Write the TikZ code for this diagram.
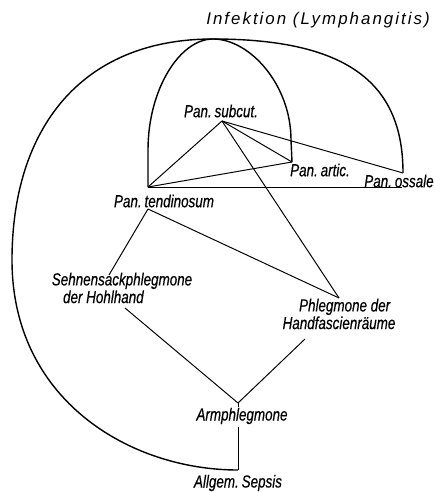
\documentclass[tikz,border=0pt]{standalone}
\usepackage{fontspec}
\setmainfont{Liberation Sans}
\newfontfamily\handfont[FakeStretch=0.77,FakeBold=0.4]{Liberation Sans}
\newfontfamily\headfont[LetterSpace=12]{Liberation Sans}
\usetikzlibrary{positioning}

\begin{document}
\begin{tikzpicture}[x=0.025cm, y=-0.025cm,
  lbl/.style={font=\fontsize{12.4}{11}\selectfont\handfont\itshape, inner sep=0pt, align=center},
  curve/.style={line width=1pt, line join=round},
  link/.style={line width=0.7pt},
]
\useasboundingbox (0,0) rectangle (433,492);

% ---- labels ----
\node[lbl, font=\fontsize{12}{13}\selectfont\headfont\itshape] (infekt) at (318,20) {Infektion (Lymphangitis)};
\node[lbl] (subcut) at (221,111) {Pan.\,subcut.};
\node[lbl] (artic) at (320,170) {Pan.\,artic.};
\node[lbl] (ossale) at (399,181) {Pan.\,ossale};
\node[lbl] (tendin) at (164,201) {Pan.\,tendinosum};
\node[lbl, align=left] (sehnen) at (122,288) {Sehnensackphlegmone\\\hspace*{8pt}der Hohlhand};
\node[lbl] (handf) at (339,314) {\hspace*{8pt}Phlegmone der\\Handfascienräume};
\node[lbl] (arm) at (242,416) {Armphlegmone};
\node[lbl] (sepsis) at (238,483) {Allgem.\,Sepsis};

% ---- junction points ----
\coordinate (top) at (213,39);     % apex of both arcs
\coordinate (sP) at (222,121);     % Pan. subcut.
\coordinate (aP) at (292,162);     % Pan. artic.
\coordinate (oP) at (403,173);     % Pan. ossale
\coordinate (oE) at (402,187);     % end of the base line
\coordinate (tP) at (148,187);     % Pan. tendinosum, above
\coordinate (tQ) at (148,209);     % Pan. tendinosum, below
\coordinate (shP) at (109,275);    % Sehnensack, top
\coordinate (shQ) at (125,308);    % Sehnensack, bottom
\coordinate (hfP) at (339,298);    % Handfascien, top
\coordinate (hfQ) at (305,339);    % Handfascien, bottom
\coordinate (apx) at (238,403);    % meeting point above Armphlegmone
\coordinate (arQ) at (238,427);    % Armphlegmone, below
\coordinate (spP) at (238,470);    % Allgem. Sepsis

% ---- arcs ----
% inner dome
\draw[curve] (tP) -- (148,150) .. controls (148,89) and (180,39) .. (top)
  .. controls (250,39) and (291,85) .. (291,140) -- (aP);
% outer arc, right half
\draw[curve] (top) .. controls (350,39) and (403,85) .. (oP);
% outer arc, left half round to the sepsis
\draw[curve] (top) .. controls (80,39) and (12,130) .. (12,260)
  .. controls (12,400) and (130,470) .. (spP);

% ---- links ----
\draw[link] (sP) -- (tP);
\draw[link] (sP) -- (aP);
\draw[link] (sP) -- (oP);
\draw[link] (sP) -- (hfP);
\draw[link] (tP) -- (aP);
\draw[link] (tP) -- (oE);
\draw[link] (tQ) -- (shP);
\draw[link] (tQ) -- (hfP);
\draw[link] (shQ) -- (apx);
\draw[link] (hfQ) -- (apx);
\draw[link] (apx) -- (238,407);
\draw[link] (arQ) -- (spP);

\end{tikzpicture}
\end{document}
